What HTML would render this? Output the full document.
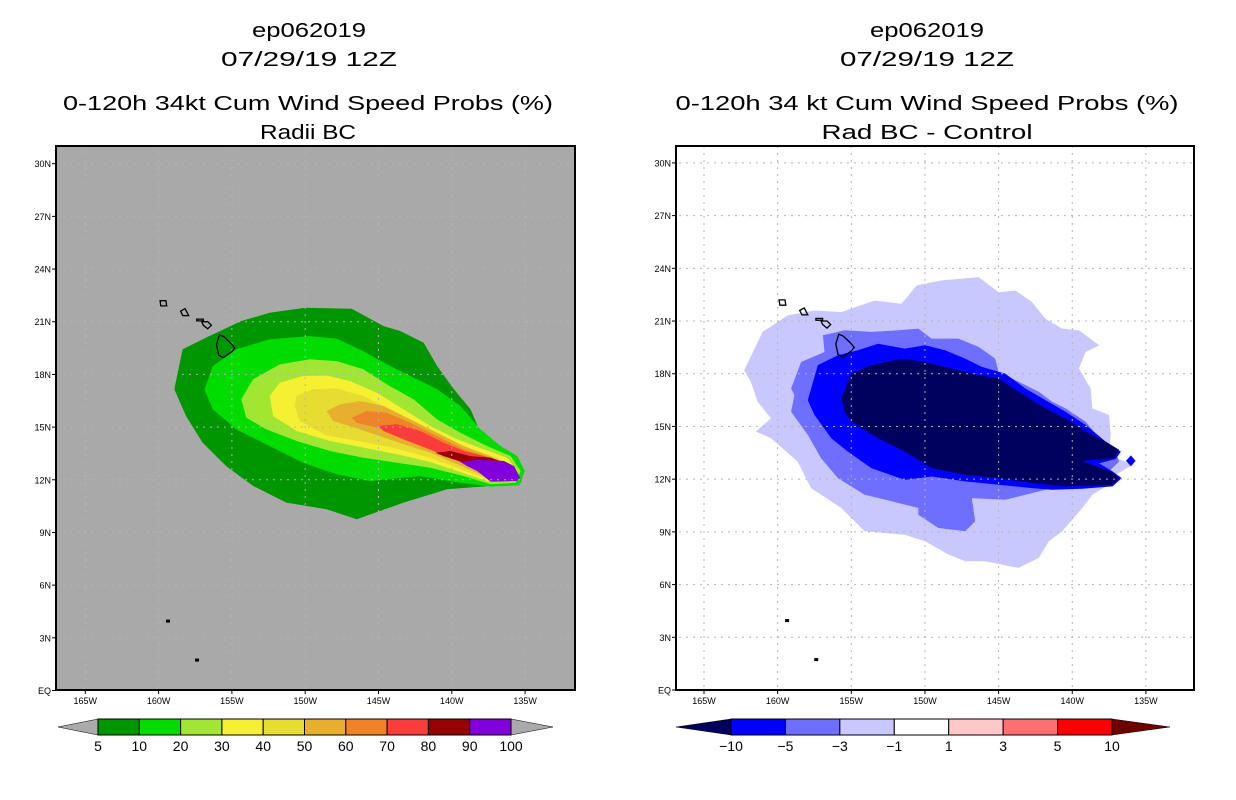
<!DOCTYPE html>
<html><head><meta charset="utf-8"><style>
html,body{margin:0;padding:0;background:#fff;}
svg{display:block;font-family:"Liberation Sans",sans-serif;}
</style></head><body>
<svg id="chart" width="1236" height="800" viewBox="0 0 1236 800">
<defs>
<clipPath id="clipL"><rect x="56" y="146" width="519" height="544"/></clipPath>
<clipPath id="clipR"><rect x="676" y="146" width="518" height="544"/></clipPath>
</defs>
<g font-size="20" fill="#000" text-anchor="middle">
<text x="309" y="37" textLength="114" lengthAdjust="spacingAndGlyphs">ep062019</text>
<text x="309" y="66" textLength="176" lengthAdjust="spacingAndGlyphs">07/29/19 12Z</text>
<text x="308" y="110" textLength="490" lengthAdjust="spacingAndGlyphs">0-120h 34kt Cum Wind Speed Probs (%)</text>
<text x="308" y="139" textLength="96" lengthAdjust="spacingAndGlyphs">Radii BC</text>
</g>
<g font-size="20" fill="#000" text-anchor="middle">
<text x="927" y="37" textLength="114" lengthAdjust="spacingAndGlyphs">ep062019</text>
<text x="927" y="66" textLength="174" lengthAdjust="spacingAndGlyphs">07/29/19 12Z</text>
<text x="927" y="110" textLength="503" lengthAdjust="spacingAndGlyphs">0-120h 34 kt Cum Wind Speed Probs (%)</text>
<text x="927" y="139" textLength="211" lengthAdjust="spacingAndGlyphs">Rad BC - Control</text>
</g>
<rect x="56" y="146" width="519" height="544" fill="#a9a9a9"/>
<rect x="676" y="146" width="518" height="544" fill="#fff"/>
<g id="left-fill" clip-path="url(#clipL)"></g>
<g id="right-fill" clip-path="url(#clipR)"></g>
<g id="left-grid" clip-path="url(#clipL)"></g>
<g id="right-grid" clip-path="url(#clipR)"></g>
<g id="left-land" clip-path="url(#clipL)"></g>
<g id="right-land" clip-path="url(#clipR)"></g>
<rect x="56" y="146" width="519" height="544" fill="none" stroke="#000" stroke-width="2"/>
<rect x="676" y="146" width="518" height="544" fill="none" stroke="#000" stroke-width="2"/>
<g id="left-axes" font-size="9"></g>
<g id="right-axes" font-size="9"></g>
<g id="left-cbar"></g>
<g id="right-cbar"></g>
</svg>
<script>
const NS="http://www.w3.org/2000/svg";
// ---- data ----
const lonTicks=[-165,-160,-155,-150,-145,-140,-135];
const lonTickLabels=["165W","160W","155W","150W","145W","140W","135W"];
const latTicks=[0,3,6,9,12,15,18,21,24,27,30];
const latTickLabels=["EQ","3N","6N","9N","12N","15N","18N","21N","24N","27N","30N"];
const probLevels=["5","10","20","30","40","50","60","70","80","90","100"];
const probColors=["#009600","#00dc00","#a0e632","#f5f032","#e6dc32","#e6af2d","#f08228","#fa3c3c","#960000","#8200dc"];
const diffLevels=["-10","-5","-3","-1","1","3","5","10"];
const diffColors=["#0000ff","#6f6fff","#c8c8ff","#ffffff","#ffc8c8","#ff6f6f","#ff0000"];
const diffLowColor="#00005f", diffHighColor="#6f0000";
const prob5=[[-158.93,17.15],[-158.36,19.43],[-156.53,20.19],[-154.36,21.04],[-152.42,21.51],[-150.02,21.80],[-146.83,21.74],[-144.66,20.75],[-143.52,20.47],[-141.92,19.80],[-141.0,18.48],[-139.86,17.15],[-138.72,16.01],[-138.04,14.68],[-136.67,13.92],[-135.75,13.35],[-135.07,12.50],[-135.30,11.83],[-137.35,11.65],[-140.32,11.46],[-143.29,10.70],[-146.48,9.75],[-148.54,10.32],[-151.28,10.70],[-153.56,11.65],[-155.39,12.78],[-156.99,14.11],[-158.13,15.63]];
const prob10=[[-156.87,17.15],[-156.30,18.48],[-154.70,19.43],[-152.42,20.0],[-149.68,20.18],[-147.85,20.03],[-146.03,19.33],[-144.43,18.57],[-142.83,17.91],[-141.0,17.15],[-139.41,16.20],[-138.04,14.87],[-136.67,13.92],[-135.53,13.35],[-135.02,12.50],[-135.41,11.68],[-137.35,11.61],[-139.41,11.83],[-142.15,12.21],[-145.57,11.93],[-147.85,12.31],[-150.14,12.97],[-152.42,13.92],[-154.70,14.87],[-156.30,16.01]];
const prob20=[[-154.36,16.58],[-153.56,17.72],[-151.74,18.57],[-149.68,18.86],[-147.85,18.76],[-146.03,18.29],[-144.43,17.43],[-142.60,16.58],[-141.0,15.44],[-139.41,14.68],[-137.58,13.92],[-135.98,13.35],[-135.30,12.50],[-135.64,11.83],[-137.35,11.74],[-139.18,12.21],[-141.46,12.69],[-143.74,12.97],[-146.03,13.26],[-148.31,13.64],[-150.59,14.21],[-152.65,14.87],[-154.02,15.54]];
const prob30=[[-152.42,16.77],[-151.74,17.53],[-150.14,17.91],[-148.54,17.94],[-146.94,17.62],[-145.11,16.96],[-143.29,16.01],[-141.46,15.06],[-139.63,14.30],[-137.81,13.73],[-136.21,13.26],[-135.53,12.50],[-135.75,11.99],[-137.35,11.87],[-139.18,12.37],[-141.46,13.01],[-143.74,13.45],[-146.03,13.83],[-148.31,14.21],[-150.59,14.78],[-152.19,15.63]];
const prob40=[[-150.59,16.77],[-149.45,17.15],[-147.85,17.19],[-146.03,16.77],[-144.20,16.01],[-142.37,15.06],[-140.55,14.30],[-138.72,13.73],[-136.90,13.26],[-135.75,12.59],[-135.94,12.06],[-137.35,11.97],[-139.18,12.54],[-141.46,13.26],[-143.74,13.77],[-146.03,14.15],[-148.54,14.53],[-150.37,15.35],[-150.71,16.20]];
const prob50=[[-148.54,15.91],[-147.63,16.29],[-146.26,16.48],[-144.66,16.20],[-142.83,15.44],[-141.0,14.68],[-139.18,13.92],[-137.35,13.35],[-135.94,12.69],[-136.03,12.16],[-137.35,12.06],[-139.18,12.73],[-141.46,13.54],[-143.74,14.15],[-146.26,14.87],[-148.08,15.35]];
const prob60=[[-146.83,15.54],[-145.80,15.91],[-144.43,15.82],[-142.83,15.25],[-141.0,14.49],[-139.18,13.73],[-137.35,13.26],[-136.03,12.69],[-136.14,12.21],[-137.35,12.16],[-139.18,12.92],[-141.23,13.73],[-143.29,14.40],[-145.11,14.97],[-146.48,15.25]];
const prob70=[[-145.0,15.06],[-143.74,15.16],[-142.15,14.78],[-140.55,14.11],[-139.18,13.64],[-137.35,13.26],[-136.14,12.78],[-136.26,12.29],[-137.35,12.25],[-139.18,12.97],[-141.23,13.64],[-143.29,14.30],[-144.66,14.78]];
const prob80=[[-141.12,13.54],[-140.09,13.64],[-138.72,13.35],[-137.35,13.26],[-136.32,12.97],[-136.44,12.37],[-137.81,12.50],[-139.18,12.97],[-140.55,13.35]];
const prob90=[[-139.41,13.01],[-138.27,13.13],[-136.44,13.07],[-135.75,12.78],[-135.34,12.12],[-135.57,11.93],[-137.35,11.89],[-138.27,12.50],[-138.95,12.78]];
const diffM1=[[-162.27,18.20],[-161.02,20.38],[-159.32,21.32],[-157.50,21.60],[-155.68,21.51],[-153.41,22.17],[-151.59,21.98],[-150.57,23.02],[-148.86,23.31],[-146.36,23.50],[-145.0,22.64],[-143.86,22.74],[-142.73,22.08],[-141.82,21.13],[-140.68,20.57],[-139.55,20.47],[-138.18,19.62],[-139.09,19.24],[-139.55,18.30],[-138.75,17.16],[-138.64,16.03],[-137.50,15.65],[-137.39,14.52],[-137.50,13.38],[-135.91,12.81],[-137.05,12.25],[-137.50,11.68],[-138.64,11.11],[-139.32,10.36],[-140.68,9.03],[-141.59,8.47],[-142.27,7.52],[-143.64,6.95],[-145.91,7.33],[-147.27,7.33],[-148.41,7.71],[-150.0,8.47],[-151.36,8.84],[-154.09,9.03],[-155.68,10.36],[-157.73,11.49],[-158.64,13.0],[-160.45,14.33],[-161.48,14.71],[-160.45,15.46],[-161.36,16.41],[-161.82,17.54]];
const diffM3=[[-159.09,17.16],[-158.41,18.67],[-156.82,19.24],[-156.93,20.19],[-155.45,20.47],[-153.64,20.38],[-151.82,20.47],[-150.45,20.57],[-149.55,20.0],[-147.73,20.0],[-146.36,19.53],[-145.23,18.86],[-145.0,18.11],[-143.64,17.54],[-142.27,16.97],[-141.36,16.41],[-140.45,16.03],[-139.09,15.27],[-137.95,14.14],[-137.05,13.57],[-136.82,13.0],[-137.73,12.25],[-139.32,11.49],[-141.36,11.49],[-143.18,11.11],[-144.55,10.83],[-146.82,10.92],[-146.59,9.60],[-147.27,9.03],[-149.09,9.22],[-150.45,9.98],[-150.45,10.36],[-152.27,10.74],[-154.09,11.11],[-155.91,12.06],[-157.05,13.19],[-157.95,14.52],[-159.09,15.84],[-158.86,16.78]];
const diffM5=[[-157.95,16.50],[-157.27,18.49],[-155.91,19.05],[-154.55,19.34],[-153.18,19.71],[-151.36,19.43],[-150.0,19.62],[-148.64,19.34],[-147.27,18.86],[-146.14,18.39],[-144.55,18.01],[-143.18,17.16],[-141.82,16.50],[-140.45,15.84],[-139.09,15.08],[-137.73,14.14],[-136.70,13.57],[-137.05,13.15],[-138.18,12.91],[-137.27,12.44],[-136.64,12.06],[-137.27,11.59],[-139.32,11.45],[-141.36,11.40],[-142.73,11.49],[-145.0,11.68],[-147.27,11.87],[-149.55,12.15],[-151.36,11.96],[-153.64,12.63],[-155.23,13.57],[-156.36,14.33],[-157.50,15.65]];
const diffM5b=[[-136.35,13.04],[-136.02,13.35],[-135.70,13.04],[-136.02,12.73]];
const diffM10=[[-155.68,16.60],[-155.0,18.01],[-153.64,18.49],[-151.59,18.86],[-150.0,18.67],[-148.18,18.30],[-146.36,17.92],[-145.0,17.73],[-143.64,16.97],[-141.82,16.03],[-140.45,15.46],[-139.09,14.71],[-137.73,14.14],[-136.82,13.67],[-137.16,13.19],[-139.32,13.04],[-138.64,12.81],[-137.27,12.40],[-136.82,12.06],[-137.27,11.68],[-140.45,11.59],[-142.73,11.78],[-145.0,12.06],[-147.27,12.25],[-149.55,12.63],[-151.36,13.57],[-153.18,14.33],[-155.0,15.27],[-155.45,15.84]];
const islandBig=[[-155.85,20.25],[-155.55,20.15],[-155.05,19.75],[-154.8,19.5],[-155.0,19.3],[-155.6,18.95],[-155.9,19.1],[-156.05,19.7]];
const islandMaui=[[-157.05,21.0],[-156.65,21.0],[-156.4,20.8],[-156.65,20.6],[-156.95,20.8]];
const islandOahu=[[-158.5,21.6],[-158.2,21.75],[-157.95,21.35],[-158.35,21.35]];
const islandKauai=[[-159.9,22.2],[-159.5,22.2],[-159.45,21.9],[-159.85,21.9]];
const islandMolokai=[[-157.4,21.15],[-156.95,21.15],[-156.95,21.05],[-157.4,21.05]];
const islandsSouth=[[-159.36,3.98],[-157.38,1.76]];
// ---- axes ----
const L={x0:85.3,kx:14.66,y0:690.5,ky:17.56};
const R={x0:704,kx:14.73,y0:690,ky:17.57};
function px(P,lon){return P.x0+(lon+165)*P.kx;}
function py(P,lat){return P.y0-lat*P.ky;}
function mk(tag,attrs,parent){const e=document.createElementNS(NS,tag);for(const k in attrs)e.setAttribute(k,attrs[k]);parent.appendChild(e);return e;}
function poly(P,pts,fill,parent,name,stroke){
  const p=mk('polygon',{points:pts.map(q=>px(P,q[0]).toFixed(1)+','+py(P,q[1]).toFixed(1)).join(' '),fill:fill,stroke:stroke||'none','stroke-width':stroke?1.3:0},parent);
  
  
  return p;
}
const lf=document.getElementById('left-fill');
const probPolys=[prob5,prob10,prob20,prob30,prob40,prob50,prob60,prob70,prob80,prob90];
probPolys.forEach((pts,i)=>poly(L,pts,probColors[i],lf,'prob-contour-'+probLevels[i]));
const rf=document.getElementById('right-fill');
poly(R,diffM1,diffColors[2],rf,'diff-contour-minus1');
poly(R,diffM3,diffColors[1],rf,'diff-contour-minus3');
poly(R,diffM5,diffColors[0],rf,'diff-contour-minus5');
poly(R,diffM5b,diffColors[0],rf,'diff-contour-minus5-spot');
poly(R,diffM10,diffLowColor,rf,'diff-contour-minus10');
function grid(P,id){
  const g=document.getElementById(id);
  lonTicks.forEach(lon=>{const l=mk('line',{x1:px(P,lon),x2:px(P,lon),y1:146,y2:690,stroke:'#b4b4b4','stroke-width':1,'stroke-dasharray':'2,5'},g);
    });
  latTicks.slice(1).forEach(lat=>{const l=mk('line',{x1:0,x2:1236,y1:py(P,lat),y2:py(P,lat),stroke:'#b4b4b4','stroke-width':1,'stroke-dasharray':'2,5'},g);
    });
}
grid(L,'left-grid');grid(R,'right-grid');
function land(P,id){
  const g=document.getElementById(id);
  [islandBig,islandMaui,islandOahu,islandKauai,islandMolokai].forEach((pts,i)=>poly(P,pts,'none',g,'island-'+i,'#000'));
  islandsSouth.forEach(q=>{const c=mk('rect',{x:px(P,q[0])-2,y:py(P,q[1])-1,width:4,height:3,fill:'#000'},g);
    });
}
land(L,'left-land');land(R,'right-land');
function axes(P,id,xl){
  const g=document.getElementById(id);
  latTicks.forEach((lat,i)=>{const y=py(P,lat);
    const t=mk('line',{x1:xl-4,x2:xl,y1:y,y2:y,stroke:'#000','stroke-width':1},g);
    
    const tx=mk('text',{x:xl-5,y:y+3.5,'text-anchor':'end'},g);tx.textContent=latTickLabels[i];
    });
  lonTicks.forEach((lon,i)=>{const x=px(P,lon);
    const t=mk('line',{x1:x,x2:x,y1:690,y2:694,stroke:'#000','stroke-width':1},g);
    
    const tx=mk('text',{x:x,y:704,'text-anchor':'middle'},g);tx.textContent=lonTickLabels[i];
    });
}
axes(L,'left-axes',56);axes(R,'right-axes',676);
function cbar(id,x0,x1,tl,tr,colors,labels,lowC,highC,lowName){
  const g=document.getElementById(id);const y0=719,y1=735,ym=727;const w=(x1-x0)/colors.length;
  const a=mk('polygon',{points:`${tl},${ym} ${x0},${y0} ${x0},${y1}`,fill:lowC,stroke:'#000','stroke-width':0.5},g);
  
  const b=mk('polygon',{points:`${tr},${ym} ${x1},${y0} ${x1},${y1}`,fill:highC,stroke:'#000','stroke-width':0.5},g);
  
  colors.forEach((c,i)=>{const r=mk('rect',{x:x0+i*w,y:y0,width:w,height:y1-y0,fill:c,stroke:'#000','stroke-width':1},g);
    });
  labels.forEach((s,i)=>{const t=mk('text',{x:x0+i*w,y:751,'text-anchor':'middle','font-size':14},g);t.textContent=s;
    });
}
cbar('left-cbar',98,511,58,553,probColors,probLevels,'#aaaaaa','#aaaaaa','prob');
cbar('right-cbar',731,1112,676,1170,diffColors,diffLevels.map(s=>s.replace('-','\u2212')),diffLowColor,diffHighColor,'diff');
</script>
</body></html>
